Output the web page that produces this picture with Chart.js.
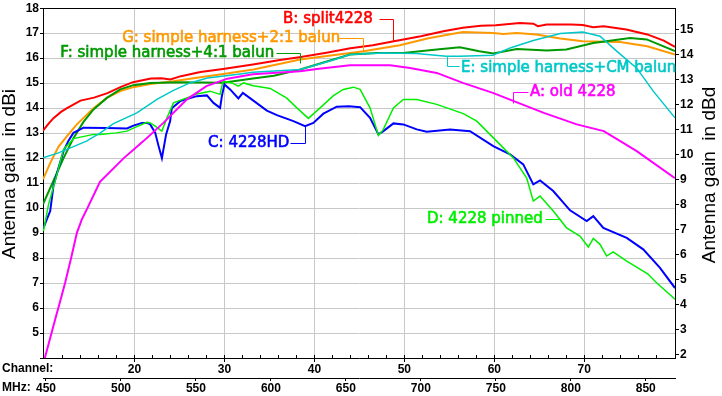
<!DOCTYPE html>
<html><head><meta charset="utf-8">
<script src="https://cdn.jsdelivr.net/npm/chart.js@4.4.1/dist/chart.umd.min.js"></script>
<style>html,body{margin:0;padding:0;background:#fff;overflow:hidden}canvas{display:block}</style>
</head><body>
<canvas id="c" width="722" height="396"></canvas>
<script>
// ---- tick labels ----
const channelTicks = [10,12,14,16,18,20,22,24,26,28,30,32,34,36,38,40,42,44,46,48,50,52,54,56,58,60,62,64,66,68,70,72,74,76,78,80];
const channelLabels = [20,30,40,50,60,70];
const mhzTicks = [450,500,550,600,650,700,750,800,850];
const dbiTicks = [4,5,6,7,8,9,10,11,12,13,14,15,16,17,18];
const dbdTicks = [2,3,4,5,6,7,8,9,10,11,12,13,14,15];

// ---- series (MHz, dBi) ----
const freqA = [449,452.8,456.1,459.5,462.8,466.8,470.6,473.9,477.7,486,501.7,515,528.3,544,557,571,588,619.5,630.6,652.8,679.5,692.8,710.6,728,748,762,782,804,822,844,869.5];
const gainA = [3.95,4.8,5.54,6.28,7.02,8.01,9.01,9.55,10.01,11.05,11.99,12.68,13.41,14.35,14.88,15.18,15.36,15.48,15.57,15.72,15.72,15.61,15.41,15.01,14.61,14.28,13.81,13.35,13.08,12.28,11.2];

const freqB = [448,452,455,460,464,473,482,491,500,508,520,527,533,540,553,568,588,605,620,637,653,668,682,700,715,728,740,750,766,775,778,784,800,808,815,822,837,851,862,869.5];
const gainB = [13.1,13.4,13.6,13.85,14.0,14.3,14.42,14.6,14.85,15.04,15.19,15.2,15.15,15.28,15.45,15.57,15.75,15.92,16.05,16.22,16.4,16.52,16.68,16.88,17.08,17.22,17.3,17.32,17.41,17.38,17.28,17.35,17.35,17.33,17.24,17.28,17.15,16.95,16.7,16.45];

const freqC = [448.3,452.8,455,458.3,461.7,465,468.3,475,490.6,504,508.3,514,517.3,519.5,522.8,525,527.3,530.1,532.8,533.9,539.5,550.6,557.3,561.7,566.1,567.3,569,572.8,578.3,581.3,588.3,597.3,604,615,622.8,628.3,635,643.9,652,659.5,666.1,671.7,675,681.7,688.3,697.3,703.9,719.5,732.8,748.3,759.5,768.3,775,779.5,788.3,799.5,810.6,815,821.7,837.3,848.3,859.5,869.5];
const gainC = [9.21,9.88,10.9,11.6,12.28,12.7,13.01,13.22,13.21,13.19,13.3,13.41,13.41,13.35,13.02,12.5,12.0,12.95,13.48,14.0,14.28,14.48,14.51,14.21,14.01,14.48,14.95,14.75,14.39,14.61,14.3,13.9,13.72,13.48,13.28,13.41,13.78,14.06,14.08,14.04,13.61,12.95,13.08,13.39,13.35,13.15,13.06,13.15,13.08,12.48,12.15,11.75,10.95,11.11,10.68,9.91,9.48,9.68,9.21,8.81,8.35,7.61,6.8];

const freqD = [448.3,451.7,456.1,461.7,468.3,481.7,486,497,504,508.3,517.3,519.5,522.8,527.3,530.6,535,543.9,550.6,559.5,566.1,567.3,568.3,573.9,578.3,581.7,588.3,599.5,610.6,617.3,625,632.8,641.7,648.3,655,659.5,666.1,671.7,675,681.7,688.3,697.3,710.6,728.3,737.3,746.1,755,761.7,770.6,775,779.5,788.3,797.2,806.1,811.7,815,819.5,823.9,828.3,837.3,843.9,848.3,851.7,857.2,869.5];
const gainD = [9.08,10.15,11.08,12.35,12.78,12.95,12.95,13.01,13.08,13.2,13.43,13.41,13.28,13.08,13.6,14.21,14.41,14.57,14.68,14.55,14.88,15.08,15.01,14.88,15.01,14.9,14.79,14.4,14.01,13.59,14.01,14.5,14.75,14.84,14.75,14.01,12.91,13.15,14.01,14.35,14.35,14.15,13.78,13.48,12.95,12.41,12.01,11.2,10.28,10.48,9.88,9.21,8.88,8.44,8.79,8.55,8.08,8.25,7.88,7.64,7.48,7.35,7.01,6.35];

const freqE = [448,458.3,468.3,477,486,495,510.6,524,535,546,557.7,579.5,588,619.5,640,652.8,675,697,717,726,748,759.5,775,793,808,819.5,830.6,844,855,869.5];
const gainE = [12.01,12.21,12.46,12.68,13.0,13.38,13.81,14.35,14.71,15.01,15.21,15.37,15.44,15.55,15.9,16.15,16.21,16.19,16.08,16.08,16.12,16.41,16.71,16.99,17.05,16.88,16.28,15.6,14.68,13.61];

const freqF = [448,455,461.7,468.3,475,481.7,490.6,499.5,508.3,519.5,540,568,588,602,619.5,652.8,670.6,688.3,710.6,726,739,748.3,764,784,797,815,839.5,850.6,869.5];
const gainF = [10.15,11.1,12.0,12.8,13.45,13.95,14.41,14.75,14.92,15.01,15.04,15.02,15.19,15.3,15.55,16.15,16.21,16.21,16.35,16.44,16.28,16.19,16.37,16.31,16.35,16.61,16.81,16.75,16.28];

const freqG = [448,452.8,458.3,464,470.6,481.7,490.6,499.5,508.3,519.5,535,552.8,568.3,588.3,619.5,661.7,686,705,728,748,755,764,777,793,808,833,851,869.5];
const gainG = [11.15,11.8,12.45,12.88,13.35,14.0,14.41,14.68,14.84,14.97,15.08,15.24,15.37,15.55,15.95,16.28,16.52,16.8,17.05,17.01,16.97,17.01,16.95,16.79,16.68,16.65,16.48,16.15];

const series = [
  {name:'A: old 4228', f:freqA, g:gainA, color:'#ff00ff', w:2},
  {name:'E: simple harness+CM balun', f:freqE, g:gainE, color:'#00c8c8', w:1.5},
  {name:'D: 4228 pinned', f:freqD, g:gainD, color:'#00ee00', w:1.5},
  {name:'C: 4228HD', f:freqC, g:gainC, color:'#0000ff', w:2},
  {name:'F: simple harness+4:1 balun', f:freqF, g:gainF, color:'#009900', w:2},
  {name:'G: simple harness+2:1 balun', f:freqG, g:gainG, color:'#ff9900', w:2},
  {name:'B: split4228', f:freqB, g:gainB, color:'#ff0000', w:2}
];

// annotation layout (data coordinates: MHz, dBi)
const notes = [
  {t:'B: split4228', c:'#ff0000', x:608.1, y:17.56, path:[[672.1,17.56],[681.5,17.56],[681.5,16.68]]},
  {t:'G: simple harness+2:1 balun', c:'#ff9900', x:500.8, y:16.8, path:[[645.5,16.8],[661.5,16.8],[661.5,16.28]]},
  {t:'F: simple harness+4:1 balun', c:'#009900', x:459.5, y:16.2, path:[[603.5,16.2],[619.5,16.2],[619.5,15.8]]},
  {t:'E: simple harness+CM balun', c:'#00c8c8', x:726.8, y:15.6, path:[[717.3,16.08],[717.3,15.68],[725.5,15.68]]},
  {t:'A: old 4228', c:'#ff00ff', x:772.8, y:14.64, path:[[761.5,14.2],[761.5,14.64],[771.5,14.64]]},
  {t:'C: 4228HD', c:'#0000ff', x:558.1, y:12.6, path:[[612.8,12.6],[622.8,12.6],[622.8,13.28]]},
  {t:'D: 4228 pinned', c:'#00ee00', x:704.1, y:9.56, path:[[782.8,9.56],[792.8,9.56]]}
];

const TF = {family:'"Liberation Sans", Arial, sans-serif', size:12, weight:'bold'};
const chOf = v => Math.round((v - 389) / 6);
const isMajor = v => channelLabels.includes(chOf(v));

const extras = {
  id:'extras',
  afterDraw(chart){
    const {ctx, chartArea:a, scales} = chart;
    const sx = scales.x, sy = scales.y;
    ctx.save();
    ctx.strokeStyle = '#000'; ctx.lineWidth = 1;
    ctx.beginPath(); ctx.moveTo(a.left, Math.round(a.top)+0.5); ctx.lineTo(a.right, Math.round(a.top)+0.5); ctx.stroke();
    // minor inward channel ticks
    ctx.beginPath();
    channelTicks.forEach(c => {
      const px = Math.round(sx.getPixelForValue(389 + 6*c)) + 0.5;
      if (px < a.left + 2 || px > a.right - 2) return;
      ctx.moveTo(px, a.bottom); ctx.lineTo(px, a.bottom - 3);
    });
    ctx.stroke();
    // axis titles
    ctx.fillStyle = '#000';
    ctx.font = '19px "Liberation Sans", Arial, sans-serif';
    ctx.textAlign = 'center'; ctx.textBaseline = 'middle';
    ctx.save(); ctx.translate(10, 174); ctx.rotate(-Math.PI/2); ctx.fillText('Antenna gain  in dBi', 0, 0); ctx.restore();
    ctx.save(); ctx.translate(710, 175); ctx.rotate(-Math.PI/2); ctx.fillText('Antenna gain  in dBd', 0, 0); ctx.restore();
    // axis row captions
    ctx.font = 'bold 12px "Liberation Sans", Arial, sans-serif';
    ctx.textAlign = 'left';
    ctx.fillText('Channel:', 2, 368.5);
    ctx.fillText('MHz:', 2, 388);
    // annotations
    ctx.font = '15px "DejaVu Sans", sans-serif';
    notes.forEach(n => {
      ctx.fillStyle = n.c; ctx.strokeStyle = n.c;
      ctx.textAlign = 'left'; ctx.textBaseline = 'middle';
      const tx = sx.getPixelForValue(n.x), ty = sy.getPixelForValue(n.y);
      ctx.lineWidth = 0.6;
      ctx.fillText(n.t, tx, ty);
      ctx.strokeText(n.t, tx, ty);
      ctx.lineWidth = 1;
      ctx.beginPath();
      n.path.forEach((p, i) => {
        const px = Math.round(sx.getPixelForValue(p[0])) + 0.5;
        const py = Math.round(sy.getPixelForValue(p[1])) + 0.5;
        if (i === 0) ctx.moveTo(px, py); else ctx.lineTo(px, py);
      });
      ctx.stroke();
    });
    ctx.restore();
  }
};

new Chart(document.getElementById('c'), {
  type:'line',
  data:{
    datasets: series.map(s => ({
      label: s.name,
      data: s.f.map((f, i) => ({x:f, y:s.g[i]})),
      borderColor: s.color, borderWidth: s.w, pointRadius: 0, tension: 0, fill: false
    }))
  },
  options:{
    responsive:false, animation:false, devicePixelRatio:1,
    layout:{padding:{top:7, left:0, right:0, bottom:0}},
    plugins:{legend:{display:false}, tooltip:{enabled:false}},
    scales:{
      x:{
        type:'linear', position:'bottom', min:448, max:869.5,
        afterBuildTicks: s => { s.ticks = channelTicks.map(c => ({value: 389 + 6*c})); },
        afterFit: s => { s.height = 20; },
        ticks:{ autoSkip:false, maxRotation:0, color:'#000', font:TF, padding:0,
          callback: v => (isMajor(v) ? String(chOf(v)) : '') },
        grid:{ color: c => (c.tick && isMajor(c.tick.value) ? '#c8c8c8' : 'rgba(0,0,0,0)'),
               tickColor: c => (c.tick && isMajor(c.tick.value) ? '#000' : 'rgba(0,0,0,0)'),
               tickLength:4 },
        border:{color:'#000'}
      },
      x2:{
        type:'linear', position:'bottom', min:448, max:869.5,
        afterBuildTicks: s => { s.ticks = mhzTicks.map(v => ({value:v})); },
        afterFit: s => { s.height = 18; },
        ticks:{ autoSkip:false, maxRotation:0, color:'#000', font:TF, padding:0 },
        grid:{ drawOnChartArea:false, tickLength:3, tickColor:'#000' },
        border:{color:'#000'}
      },
      y:{
        type:'linear', position:'left', min:4, max:18,
        afterBuildTicks: s => { s.ticks = dbiTicks.map(v => ({value:v})); },
        afterFit: s => { s.width = 43; },
        ticks:{ color:'#000', font:TF, padding:1, callback: v => (v === 4 ? '' : String(v)) },
        grid:{ color:'#c8c8c8', tickColor:'#000', tickLength:3 },
        border:{color:'#000'}
      },
      y2:{
        type:'linear', position:'right', min:4-2.15, max:18-2.15,
        afterBuildTicks: s => { s.ticks = dbdTicks.map(v => ({value:v})); },
        afterFit: s => { s.width = 47; },
        ticks:{ color:'#000', font:TF, padding:1, callback: v => String(v) },
        grid:{ drawOnChartArea:false, tickColor:'#000', tickLength:4 },
        border:{color:'#000'}
      }
    }
  },
  plugins:[extras]
});
</script></body></html>
